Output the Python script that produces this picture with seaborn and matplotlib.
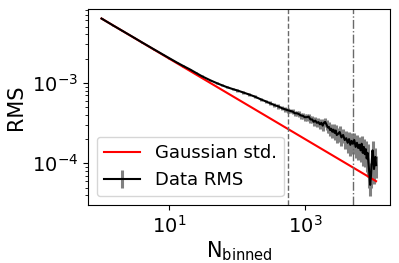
import numpy as np
import matplotlib
matplotlib.use("Agg")
import matplotlib.pyplot as plt
import seaborn as sns

# number of binned points
n_binned = [1, 1.5, 2, 3, 4, 6, 8, 10, 13, 16, 20, 25, 30, 40, 50, 60, 70, 85,
            100, 120, 150, 180, 220, 260, 300, 350, 400, 450, 500, 560,
            600, 650, 700, 750, 800, 860, 920, 980, 1050, 1120, 1190, 1260,
            1330, 1400, 1480, 1560, 1640, 1720, 1800, 1880, 1960, 2050, 2140,
            2230, 2320, 2410, 2500, 2600, 2700, 2800, 2900, 3000,
            3200, 3400, 3600, 3800, 4000, 4200, 4400, 4600, 4800, 5000, 5250,
            5500, 5750, 6000, 6250, 6500, 6750, 7000, 7250, 7500, 7750, 8000,
            8250, 8500, 8750, 9000, 9250, 9500, 9750, 10000, 10250, 10500,
            10750, 11000]

# measured RMS and its error (units of 1e-4)
rms_e4 = [63.0, 51.4, 44.6, 36.5, 31.6, 25.9, 22.5, 20.2, 17.8, 16.2, 14.7,
          13.2, 12.1, 10.75, 9.9, 9.3, 8.85, 8.38, 8.04, 7.63, 7.15, 6.75,
          6.25, 5.9, 5.6, 5.3, 5.1, 4.85, 4.7, 4.55,
          4.48, 4.40, 4.19, 4.19, 4.10, 3.93, 3.90, 3.74, 3.75, 3.80, 3.51,
          3.51, 3.28, 3.40, 3.19, 3.25, 3.05, 3.19, 2.94, 3.20, 3.27, 3.03,
          2.79, 2.83, 2.59, 2.69, 2.47, 2.62, 2.39, 2.56, 2.25, 2.30,
          2.45, 2.1, 2.25, 1.95, 2.05, 1.8, 2.0, 1.7, 1.9, 1.75, 1.95, 1.6,
          1.8, 1.55, 1.7, 1.45, 1.75, 1.35, 1.6, 1.3, 1.5, 1.15, 1.35, 1.0,
          0.75, 0.54, 0.7, 1.05, 1.45, 1.2, 0.85, 1.05, 1.2, 0.95]
err_e4 = [0.3, 0.3, 0.3, 0.3, 0.3, 0.3, 0.3, 0.3, 0.3, 0.3, 0.3, 0.3, 0.3,
          0.25, 0.25, 0.25, 0.25, 0.3, 0.3, 0.3, 0.3, 0.3, 0.3, 0.3, 0.3,
          0.3, 0.3, 0.3, 0.3, 0.3,
          0.3, 0.3, 0.32, 0.32, 0.34, 0.34, 0.35, 0.35, 0.36, 0.36, 0.36,
          0.37, 0.37, 0.38, 0.38, 0.38, 0.38, 0.4, 0.4, 0.4, 0.4, 0.4, 0.42,
          0.42, 0.42, 0.42, 0.43, 0.43, 0.44, 0.44, 0.45, 0.45,
          0.45, 0.45, 0.45, 0.45, 0.45, 0.45, 0.45, 0.45, 0.45, 0.45, 0.45,
          0.45, 0.45, 0.45, 0.42, 0.42, 0.45, 0.42, 0.42, 0.4, 0.42, 0.38,
          0.38, 0.33, 0.25, 0.15, 0.2, 0.3, 0.45, 0.38, 0.3, 0.3, 0.33, 0.3]

# expected gaussian std (straight line in log-log)
gauss_n = [1, 11000]
gauss_std = [6.3e-3, 6.0e-5]

# reference bin sizes
vline_pos = [560, 5000]
vline_styles = ["--", "-."]

# labelled x ticks
x_ticks = [10, 1000]

rms = np.array(rms_e4) * 1e-4
err = np.array(err_e4) * 1e-4

fig, ax = plt.subplots(figsize=(3.99, 2.63), dpi=100)
fig.subplots_adjust(left=0.22, right=0.977, bottom=0.22, top=0.964)

ax.errorbar(n_binned, rms, yerr=err, color="k", ecolor="gray",
            elinewidth=2.2, lw=1.5, label="Data RMS")
sns.lineplot(x=gauss_n, y=gauss_std, color="red", lw=1.5,
             label="Gaussian std.", ax=ax)

for xv, ls in zip(vline_pos, vline_styles):
    ax.axvline(xv, color="dimgray", ls=ls, lw=1)

ax.set_xscale("log")
ax.set_yscale("log")
ax.set_xticks(x_ticks)
ax.xaxis.set_minor_locator(matplotlib.ticker.NullLocator())
ax.set_xlabel(r"N$_{\mathrm{binned}}$", fontsize=15, labelpad=2)
ax.set_ylabel("RMS", fontsize=15)
ax.tick_params(labelsize=14)
ax.legend(loc="lower left", fontsize=13)

fig.savefig("out.png", dpi=100)
